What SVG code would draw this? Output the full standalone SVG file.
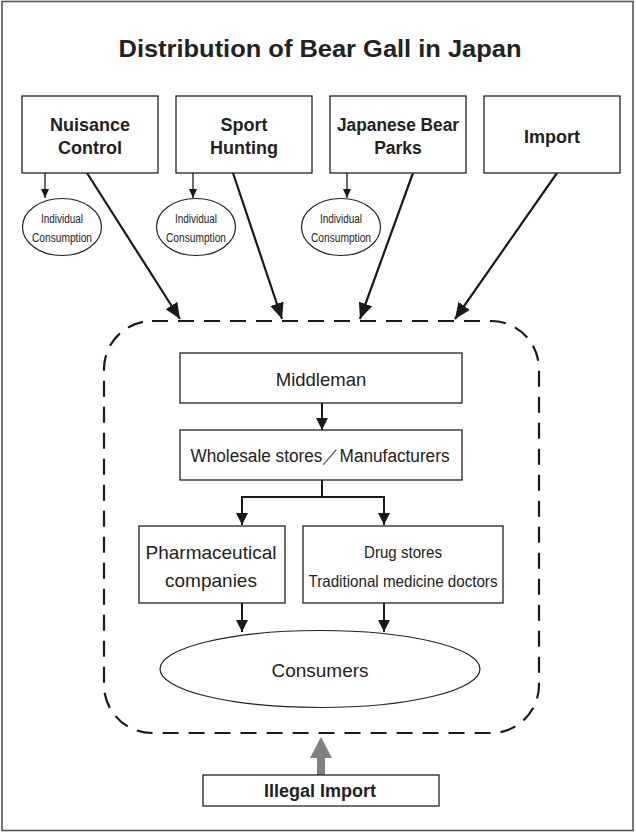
<svg xmlns="http://www.w3.org/2000/svg" width="636" height="832" viewBox="0 0 636 832">
<style>
.box{fill:#fff;stroke:#222;stroke-width:1.3}
.ell{fill:#fff;stroke:#222;stroke-width:1.2}
.t{font-family:"Liberation Sans",Arial,sans-serif;fill:#222;text-anchor:middle}
.b{font-weight:bold}
.big{stroke:#1a1a1a;stroke-width:2.2;fill:none}
.sm{stroke:#1a1a1a;stroke-width:1.3;fill:none}
.flow{stroke:#1a1a1a;stroke-width:2;fill:none}
</style>
<defs>
<marker id="ah" markerUnits="userSpaceOnUse" markerWidth="18" markerHeight="14" refX="16" refY="7" orient="auto"><path d="M0,0 L16,7 L0,14 Z" fill="#1a1a1a"/></marker>
<marker id="am" markerUnits="userSpaceOnUse" markerWidth="14" markerHeight="12" refX="12" refY="6" orient="auto"><path d="M0,0 L12,6 L0,12 Z" fill="#1a1a1a"/></marker>
<marker id="as" markerUnits="userSpaceOnUse" markerWidth="10" markerHeight="8" refX="9" refY="4" orient="auto"><path d="M0,0 L9,4 L0,8 Z" fill="#1a1a1a"/></marker>
</defs>
<rect x="2" y="1.5" width="631" height="829" fill="#fff" stroke="#555" stroke-width="1.6"/>
<text class="t b" x="320" y="57" font-size="24" textLength="403" lengthAdjust="spacingAndGlyphs">Distribution of Bear Gall in Japan</text>

<g id="area">
<rect x="104" y="321" width="435" height="412" rx="48" ry="48" fill="none" stroke="#1a1a1a" stroke-width="2.2" stroke-dasharray="16 10"/>
</g>

<g id="connectors">
<line class="sm" x1="45" y1="173" x2="45" y2="198" marker-end="url(#as)"/>
<line class="sm" x1="193" y1="173" x2="193" y2="198" marker-end="url(#as)"/>
<line class="sm" x1="347" y1="173" x2="347" y2="198" marker-end="url(#as)"/>
<line class="big" x1="87" y1="173" x2="180" y2="319" marker-end="url(#ah)"/>
<line class="big" x1="233" y1="173" x2="282" y2="319" marker-end="url(#ah)"/>
<line class="big" x1="413" y1="173" x2="360" y2="319" marker-end="url(#ah)"/>
<line class="big" x1="557" y1="173" x2="455" y2="319" marker-end="url(#ah)"/>
<line class="flow" x1="322" y1="403" x2="322" y2="430" marker-end="url(#am)"/>
<polyline class="flow" points="322,480 322,497 242,497 242,525" marker-end="url(#am)"/>
<polyline class="flow" points="322,497 384,497 384,525" marker-end="url(#am)"/>
<line class="flow" x1="242" y1="603" x2="242" y2="632" marker-end="url(#am)"/>
<line class="flow" x1="384" y1="603" x2="384" y2="632" marker-end="url(#am)"/>
<path d="M317,775 L317,758 L310,758 L321,737 L332,758 L325,758 L325,775 Z" fill="#808080"/>
</g>

<g id="nuisance">
<rect class="box" x="22" y="96" width="136" height="77"/>
<text class="t b" x="90" y="131" font-size="18">Nuisance</text>
<text class="t b" x="90" y="154" font-size="18">Control</text>
</g>
<g id="sport">
<rect class="box" x="176" y="96" width="136" height="77"/>
<text class="t b" x="244" y="131" font-size="18">Sport</text>
<text class="t b" x="244" y="154" font-size="18">Hunting</text>
</g>
<g id="parks">
<rect class="box" x="330" y="96" width="136" height="77"/>
<text class="t b" x="398" y="131" font-size="17.5" textLength="122" lengthAdjust="spacingAndGlyphs">Japanese Bear</text>
<text class="t b" x="398" y="154" font-size="17.5">Parks</text>
</g>
<g id="import">
<rect class="box" x="484" y="96" width="136" height="77"/>
<text class="t b" x="552" y="143" font-size="18">Import</text>
</g>

<g id="ind1">
<ellipse class="ell" cx="62" cy="227" rx="39.5" ry="28.5"/>
<text class="t" x="62" y="223" font-size="12" textLength="42" lengthAdjust="spacingAndGlyphs">Individual</text>
<text class="t" x="62" y="242" font-size="12" textLength="60" lengthAdjust="spacingAndGlyphs">Consumption</text>
</g>
<g id="ind2">
<ellipse class="ell" cx="196" cy="227" rx="39.5" ry="28.5"/>
<text class="t" x="196" y="223" font-size="12" textLength="42" lengthAdjust="spacingAndGlyphs">Individual</text>
<text class="t" x="196" y="242" font-size="12" textLength="60" lengthAdjust="spacingAndGlyphs">Consumption</text>
</g>
<g id="ind3">
<ellipse class="ell" cx="341" cy="227" rx="39.5" ry="28.5"/>
<text class="t" x="341" y="223" font-size="12" textLength="42" lengthAdjust="spacingAndGlyphs">Individual</text>
<text class="t" x="341" y="242" font-size="12" textLength="60" lengthAdjust="spacingAndGlyphs">Consumption</text>
</g>

<g id="middleman">
<rect class="box" x="180" y="353" width="282" height="50"/>
<text class="t" x="321" y="386" font-size="18.5">Middleman</text>
</g>
<g id="wholesale">
<rect class="box" x="180" y="430" width="282" height="50"/>
<text class="t" x="320" y="462" font-size="18" textLength="259" lengthAdjust="spacingAndGlyphs">Wholesale stores／Manufacturers</text>
</g>
<g id="pharma">
<rect class="box" x="139" y="526" width="146" height="77"/>
<text class="t" x="211" y="559" font-size="19">Pharmaceutical</text>
<text class="t" x="211" y="587" font-size="19">companies</text>
</g>
<g id="drug">
<rect class="box" x="303" y="526" width="200" height="77"/>
<text class="t" x="403" y="558" font-size="16.5" textLength="78" lengthAdjust="spacingAndGlyphs">Drug stores</text>
<text class="t" x="403" y="587" font-size="16.5" textLength="189" lengthAdjust="spacingAndGlyphs">Traditional medicine doctors</text>
</g>
<g id="consumers">
<ellipse class="ell" cx="320" cy="669" rx="160" ry="38.5"/>
<text class="t" x="320" y="677" font-size="19">Consumers</text>
</g>
<g id="illegal">
<rect class="box" x="203" y="775" width="236" height="31"/>
<text class="t b" x="320" y="797" font-size="18">Illegal Import</text>
</g>
</svg>
